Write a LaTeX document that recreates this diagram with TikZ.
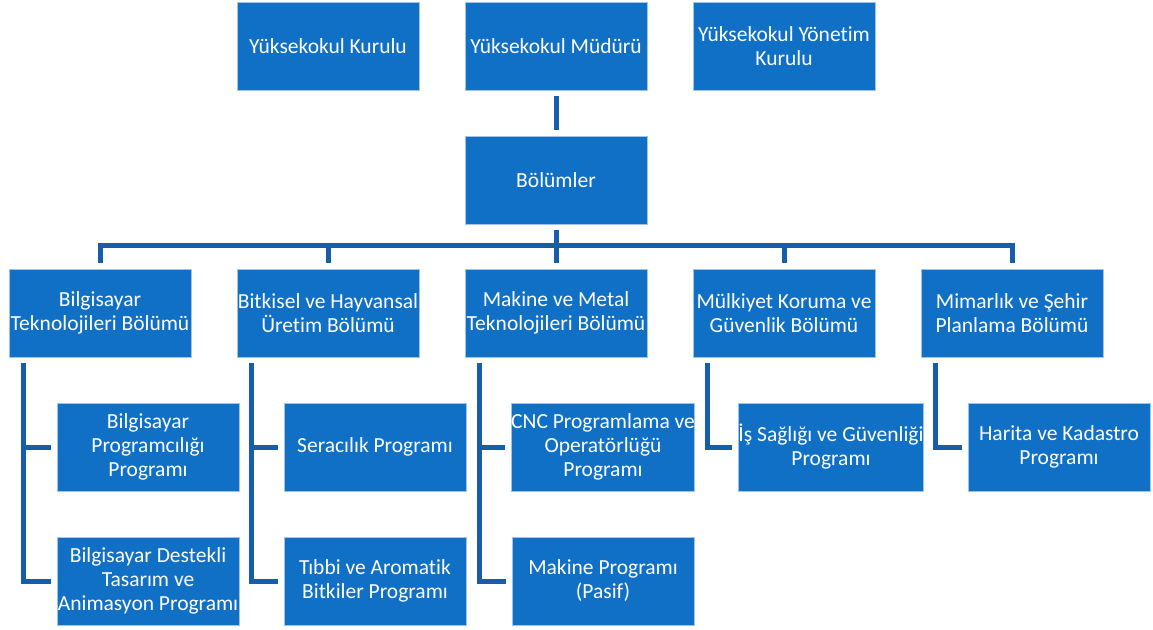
\documentclass[tikz,border=0pt]{standalone}
\usepackage{fontspec}
\setmainfont{Carlito}[Ligatures={NoCommon}]
\definecolor{boxblue}{RGB}{16,112,198}
\definecolor{lineblue}{RGB}{22,94,170}
\definecolor{edgeblue}{RGB}{160,195,232}
\begin{document}
\begin{tikzpicture}[x=1pt,y=-1pt,
  orgbox/.style={rectangle,fill=boxblue,draw=edgeblue,line width=0.8pt,minimum width=182pt,minimum height=88pt,inner sep=0pt,text=white,align=center,font=\fontsize{21.5}{24}\selectfont},
  conn/.style={draw=lineblue,line width=5pt}]
\useasboundingbox[fill=white] (0,0) rectangle (1153,629);
% top row
\node[orgbox] (kur) at (328,46) {Yüksekokul Kurulu};
\node[orgbox] (mud) at (556,46) {Yüksekokul Müdürü};
\node[orgbox] (yon) at (784,46) {Yüksekokul Yönetim\\Kurulu};
\node[orgbox] (bol) at (556,180) {Bölümler};
% departments
\node[orgbox] (d1) at (100,313) {Bilgisayar\\Teknolojileri Bölümü};
\node[orgbox] (d2) at (328,313) {Bitkisel ve Hayvansal\\Üretim Bölümü};
\node[orgbox] (d3) at (556,313) {Makine ve Metal\\Teknolojileri Bölümü};
\node[orgbox] (d4) at (784,313) {Mülkiyet Koruma ve\\Güvenlik Bölümü};
\node[orgbox] (d5) at (1012,313) {Mimarlık ve Şehir\\Planlama Bölümü};
% programmes
\node[orgbox] (c1a) at (148,447) {Bilgisayar\\Programcılığı\\Programı};
\node[orgbox] (c1b) at (148,581) {Bilgisayar Destekli\\Tasarım ve\\Animasyon Programı};
\node[orgbox] (c2a) at (375,447) {Seracılık Programı};
\node[orgbox] (c2b) at (375,581) {Tıbbi ve Aromatik\\Bitkiler Programı};
\node[orgbox] (c3a) at (603,447) {CNC Programlama ve\\Operatörlüğü\\Programı};
\node[orgbox] (c3b) at (603,581) {Makine Programı\\(Pasif)};
\node[orgbox] (c4a) at (831,447) {İş Sağlığı ve Güvenliği\\Programı};
\node[orgbox] (c5a) at (1059,447) {Harita ve Kadastro\\Programı};
% connectors
\coordinate (busy) at (0,245);
\draw[conn] ([yshift=-6pt]mud.south) -- ([yshift=6pt]bol.north);
\draw[conn] ([yshift=-6pt]bol.south) -- (bol.south |- busy);
\draw[conn] ([yshift=6pt]d1.north) |- (bol.south |- busy) -| ([yshift=6pt]d5.north);
\draw[conn] (d2.north |- busy) -- ([yshift=6pt]d2.north);
\draw[conn] (d3.north |- busy) -- ([yshift=6pt]d3.north);
\draw[conn] (d4.north |- busy) -- ([yshift=6pt]d4.north);
\coordinate (v1) at ([xshift=15pt,yshift=-6pt]d1.south west);
\coordinate (v2) at ([xshift=15pt,yshift=-6pt]d2.south west);
\coordinate (v3) at ([xshift=15pt,yshift=-6pt]d3.south west);
\coordinate (v4) at ([xshift=15pt,yshift=-6pt]d4.south west);
\coordinate (v5) at ([xshift=15pt,yshift=-6pt]d5.south west);
\draw[conn] (v1) |- ([xshift=-6pt]c1b.west);
\draw[conn] (v1 |- c1a.west) -- ([xshift=-6pt]c1a.west);
\draw[conn] (v2) |- ([xshift=-6pt]c2b.west);
\draw[conn] (v2 |- c2a.west) -- ([xshift=-6pt]c2a.west);
\draw[conn] (v3) |- ([xshift=-6pt]c3b.west);
\draw[conn] (v3 |- c3a.west) -- ([xshift=-6pt]c3a.west);
\draw[conn] (v4) |- ([xshift=-6pt]c4a.west);
\draw[conn] (v5) |- ([xshift=-6pt]c5a.west);
\end{tikzpicture}
\end{document}
